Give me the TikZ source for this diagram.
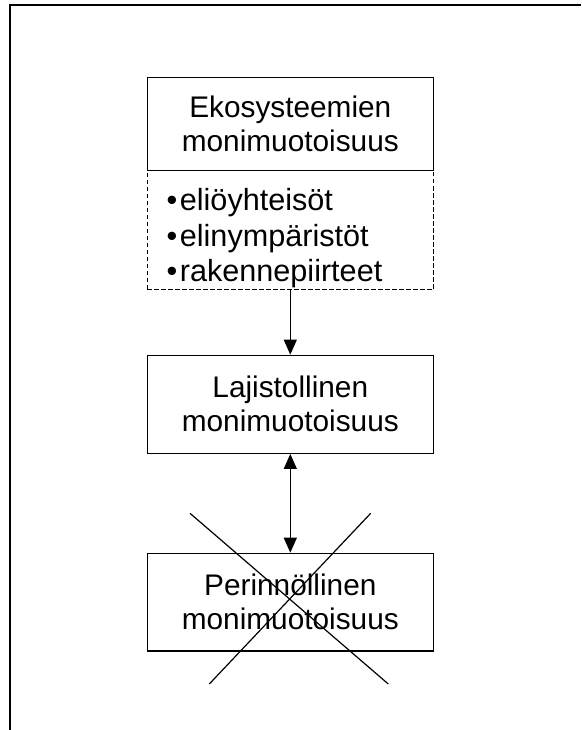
\documentclass[tikz,border=0pt]{standalone}
\usepackage{fontspec}
\setmainfont{Liberation Sans}
\usetikzlibrary{arrows.meta}
\tikzset{
  box/.style={draw, line width=1.3pt, minimum width=286pt, inner sep=0pt, align=center,
    font=\fontsize{29.8}{34}\selectfont},
  listbox/.style={draw, line width=1.4pt, dash pattern=on 4.5pt off 2.5pt, minimum width=286pt, minimum height=118.8pt, inner sep=0pt},
  item/.style={anchor=base west, inner sep=0pt, font=\fontsize{30.6}{34}\selectfont},
  conn/.style={line width=1.3pt, -{Triangle[length=15pt,width=13pt]}},
  biconn/.style={line width=1.3pt, {Triangle[length=15pt,width=13pt]}-{Triangle[length=15pt,width=13pt]}},
  crossline/.style={line width=1.2pt},
  frame/.style={line width=2pt}
}
\begin{document}
\begin{tikzpicture}[x=1pt,y=-1pt]
\useasboundingbox (0,0) rectangle (581,730);
% frame
\draw[frame] (10,730) -- (10,5.5) -- (581,5.5);
% list box (dashed) first, then solid title box
\node[listbox] (list) at (290.3,230.1) {};
\node[box, minimum height=93.4pt] (eko) at (290.3,124) {Ekosysteemien\\monimuotoisuus};
\node[item] (b1) at (166.5,210) {•\hspace{2.5pt}eliöyhteisöt};
\node[item] (b2) at (166.5,246.7) {•\hspace{2.5pt}elinympäristöt};
\node[item] (b3) at (166.5,281.7) {•\hspace{2.5pt}rakennepiirteet};
\node[box, minimum height=98pt] (laji) at (290.3,404.3) {Lajistollinen\\monimuotoisuus};
\node[box, minimum height=97.7pt] (peri) at (290.3,602.2) {Perinnöllinen\\monimuotoisuus};
\draw[conn] (list.south) -- (laji.north);
\draw[biconn] (laji.south) -- (peri.north);
% cross
\coordinate (x1) at (190,513.3);
\coordinate (x2) at (388.3,684);
\coordinate (x3) at (370.7,513.3);
\coordinate (x4) at (209.3,684);
\draw[crossline] (x1) -- (x2);
\draw[crossline] (x3) -- (x4);
\end{tikzpicture}
\end{document}
